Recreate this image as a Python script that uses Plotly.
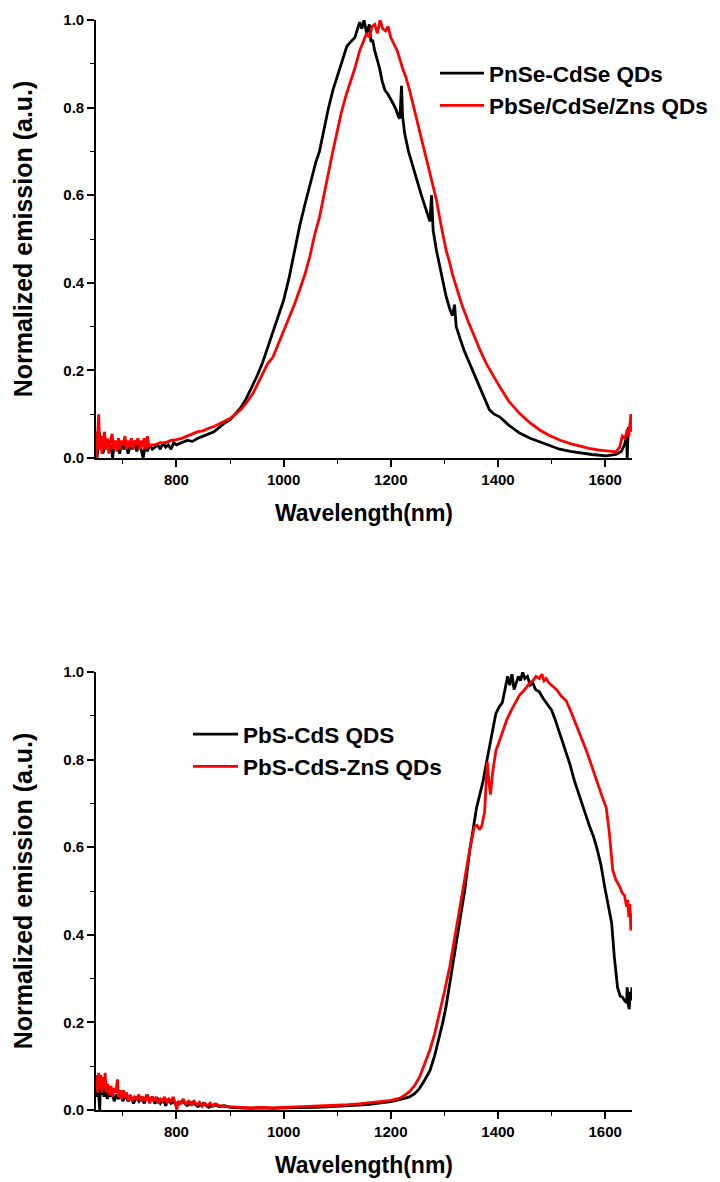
import plotly.graph_objects as go

# ---------------- data ----------------
# Top panel: PbSe-based QDs
top_black_x = [650, 652, 654, 656, 658, 660, 663, 666, 669, 672, 675, 678, 681, 684, 687, 690, 694, 698,
               702, 706, 710, 714, 718, 722, 726, 730, 734, 738, 742, 746, 750, 755, 760, 765, 770, 775,
               780, 785, 790, 795, 800, 810, 820, 830, 840, 850, 860, 870, 880, 890, 900, 910, 920, 930,
               940, 950, 960, 970, 980, 990, 1000, 1010, 1020, 1030, 1040, 1050, 1060, 1067, 1075, 1083,
               1092, 1100, 1105, 1112, 1118, 1125, 1133, 1138, 1142, 1146, 1150, 1155, 1160, 1163, 1166,
               1170, 1175, 1179, 1184, 1189, 1195, 1200, 1204, 1210, 1214, 1217, 1220, 1222, 1226, 1233,
               1241, 1249, 1257, 1265, 1273, 1276, 1279, 1285, 1291, 1297, 1303, 1310, 1315, 1319, 1322,
               1328, 1337, 1347, 1356, 1366, 1375, 1384, 1393, 1403, 1420, 1440, 1460, 1478, 1495, 1515,
               1535, 1552, 1575, 1602, 1620, 1630, 1636, 1640, 1641, 1643, 1646, 1648, 1650]
top_black_y = [0.05, 0.0, 0.03, 0.06, 0.02, 0.04, 0.01, 0.03, 0.02, 0.04, 0.015, 0.03, 0.0, 0.035, 0.02,
               0.03, 0.01, 0.035, 0.02, 0.03, 0.01, 0.03, 0.02, 0.035, 0.015, 0.03, 0.02, 0.0, 0.03, 0.015,
               0.03, 0.02, 0.025, 0.03, 0.02, 0.035, 0.025, 0.03, 0.02, 0.035, 0.03, 0.035, 0.04, 0.038,
               0.045, 0.05, 0.055, 0.06, 0.07, 0.08, 0.087, 0.10, 0.115, 0.135, 0.16, 0.186, 0.215, 0.25,
               0.285, 0.32, 0.36, 0.41, 0.47, 0.53, 0.58, 0.63, 0.675, 0.70, 0.75, 0.795, 0.84, 0.87, 0.89,
               0.915, 0.94, 0.95, 0.96, 0.98, 0.995, 0.98, 1.0, 0.97, 0.99, 0.95, 0.955, 0.93, 0.91, 0.89,
               0.86, 0.84, 0.83, 0.82, 0.81, 0.795, 0.78, 0.775, 0.85, 0.78, 0.74, 0.70, 0.665, 0.63, 0.60,
               0.57, 0.54, 0.60, 0.52, 0.475, 0.44, 0.40, 0.37, 0.34, 0.325, 0.35, 0.30, 0.277, 0.245,
               0.216, 0.19, 0.163, 0.135, 0.11, 0.10, 0.094, 0.075, 0.057, 0.045, 0.037, 0.028, 0.02,
               0.015, 0.012, 0.008, 0.005, 0.008, 0.015, 0.03, 0.05, 0.0, 0.07, 0.06, 0.09, 0.08]

top_red_x = [650, 651, 653, 655, 657, 659, 661, 663, 666, 668, 671, 674, 677, 680, 683, 686, 689, 692, 695,
             698, 701, 704, 707, 710, 713, 716, 719, 722, 725, 728, 731, 734, 737, 740, 743, 746, 749, 752,
             760, 770, 780, 790, 800, 810, 820, 830, 840, 850, 860, 870, 880, 890, 900, 910, 920, 930, 943,
             950, 960, 970, 980, 990, 999, 1010, 1020, 1030, 1040, 1049, 1058, 1067, 1075, 1083, 1091, 1099,
             1108, 1117, 1125, 1133, 1142, 1148, 1155, 1160, 1165, 1170, 1175, 1180, 1185, 1190, 1195, 1200,
             1204, 1212, 1222, 1228, 1235, 1241, 1247, 1255, 1263, 1268, 1273, 1279, 1285, 1294, 1303, 1309,
             1315, 1325, 1334, 1345, 1356, 1367, 1378, 1390, 1403, 1420, 1440, 1460, 1478, 1495, 1515, 1535,
             1552, 1570, 1589, 1605, 1620, 1627, 1632, 1637, 1641, 1644, 1646, 1648, 1650]
top_red_y = [0.06, 0.0, 0.05, 0.10, 0.02, 0.05, 0.01, 0.04, 0.06, 0.02, 0.045, 0.01, 0.04, 0.055, 0.02,
             0.04, 0.015, 0.045, 0.02, 0.04, 0.03, 0.05, 0.02, 0.04, 0.025, 0.045, 0.02, 0.04, 0.03, 0.045,
             0.02, 0.04, 0.025, 0.045, 0.02, 0.05, 0.025, 0.03, 0.03, 0.035, 0.035, 0.04, 0.042, 0.045,
             0.05, 0.055, 0.06, 0.062, 0.068, 0.072, 0.078, 0.085, 0.09, 0.10, 0.11, 0.125, 0.148, 0.165,
             0.19, 0.215, 0.23, 0.26, 0.285, 0.32, 0.35, 0.384, 0.42, 0.46, 0.51, 0.55, 0.60, 0.65, 0.695,
             0.74, 0.79, 0.83, 0.86, 0.89, 0.93, 0.95, 0.97, 0.96, 0.985, 0.99, 0.97, 1.0, 0.98, 0.975,
             0.985, 0.96, 0.95, 0.93, 0.89, 0.87, 0.84, 0.81, 0.78, 0.74, 0.70, 0.68, 0.65, 0.62, 0.59,
             0.53, 0.475, 0.45, 0.42, 0.38, 0.345, 0.31, 0.277, 0.245, 0.216, 0.19, 0.163, 0.13, 0.102,
             0.08, 0.064, 0.052, 0.041, 0.033, 0.027, 0.022, 0.018, 0.016, 0.014, 0.025, 0.05, 0.045,
             0.065, 0.05, 0.08, 0.10, 0.06]

# Bottom panel: PbS-based QDs
bot_black_x = [650, 651, 653, 655, 657, 658, 660, 662, 665, 668, 671, 674, 677, 680, 684, 688, 692, 696,
               700, 705, 710, 715, 720, 725, 730, 735, 740, 745, 750, 755, 760, 765, 770, 775, 780, 785,
               790, 795, 800, 810, 820, 830, 840, 850, 860, 870, 880, 890, 900, 920, 940, 960, 980, 1000,
               1020, 1040, 1060, 1080, 1100, 1120, 1140, 1160, 1180, 1200, 1218, 1235, 1245, 1254, 1263,
               1273, 1282, 1291, 1297, 1303, 1309, 1315, 1322, 1328, 1334, 1338, 1347, 1353, 1360, 1366,
               1372, 1378, 1384, 1390, 1396, 1402, 1408, 1413, 1418, 1422, 1426, 1430, 1434, 1438, 1442,
               1446, 1450, 1455, 1460, 1465, 1470, 1477, 1484, 1492, 1500, 1507, 1515, 1525, 1534, 1543,
               1552, 1562, 1571, 1578, 1584, 1592, 1599, 1605, 1612, 1617, 1623, 1628, 1632, 1636, 1640,
               1641, 1643, 1645, 1646, 1648, 1650]
bot_black_y = [0.06, 0.03, 0.07, 0.04, 0.0, 0.05, 0.035, 0.06, 0.03, 0.05, 0.025, 0.045, 0.03, 0.04,
               0.02, 0.035, 0.025, 0.04, 0.02, 0.035, 0.02, 0.03, 0.015, 0.03, 0.02, 0.03, 0.015, 0.035,
               0.02, 0.03, 0.015, 0.025, 0.015, 0.025, 0.01, 0.025, 0.015, 0.02, 0.01, 0.02, 0.01, 0.018,
               0.008, 0.015, 0.006, 0.012, 0.008, 0.01, 0.006, 0.005, 0.004, 0.005, 0.004, 0.005, 0.005,
               0.006, 0.006, 0.007, 0.008, 0.009, 0.011, 0.013, 0.016, 0.019, 0.024, 0.03, 0.038, 0.05,
               0.068, 0.09, 0.125, 0.167, 0.20, 0.236, 0.28, 0.327, 0.375, 0.426, 0.47, 0.502, 0.59, 0.64,
               0.69, 0.72, 0.75, 0.79, 0.83, 0.87, 0.905, 0.92, 0.93, 0.96, 0.99, 0.97, 0.995, 0.96, 0.975,
               0.99, 0.98, 1.0, 0.985, 0.99, 0.97, 0.975, 0.96, 0.955, 0.94, 0.925, 0.913, 0.89, 0.86,
               0.825, 0.79, 0.75, 0.715, 0.68, 0.647, 0.625, 0.60, 0.56, 0.51, 0.47, 0.427, 0.35, 0.28,
               0.26, 0.258, 0.25, 0.245, 0.28, 0.24, 0.23, 0.27, 0.25, 0.28]

bot_red_x = [650, 651, 653, 655, 657, 659, 661, 663, 665, 667, 669, 672, 675, 678, 681, 684, 687, 690, 692,
             695, 698, 701, 704, 707, 710, 714, 718, 722, 726, 730, 734, 738, 742, 746, 750, 754, 758, 762,
             766, 770, 774, 778, 782, 786, 790, 794, 798, 801, 803, 808, 813, 818, 823, 828, 833, 838, 843,
             848, 853, 858, 863, 868, 873, 880, 890, 900, 920, 940, 960, 980, 1000, 1020, 1040, 1060, 1080,
             1100, 1120, 1140, 1160, 1180, 1200, 1217, 1226, 1235, 1245, 1254, 1263, 1273, 1282, 1291, 1300,
             1310, 1318, 1325, 1334, 1341, 1348, 1356, 1361, 1366, 1370, 1375, 1378, 1380, 1383, 1386, 1390,
             1396, 1402, 1408, 1416, 1425, 1432, 1440, 1450, 1459, 1465, 1471, 1477, 1482, 1486, 1490, 1495,
             1500, 1509, 1518, 1527, 1536, 1546, 1555, 1565, 1575, 1584, 1593, 1602, 1608, 1614, 1620, 1627,
             1632, 1636, 1640, 1642, 1644, 1646, 1648, 1650]
bot_red_y = [0.05, 0.08, 0.04, 0.085, 0.05, 0.08, 0.04, 0.075, 0.05, 0.085, 0.04, 0.06, 0.035, 0.055,
             0.03, 0.05, 0.04, 0.07, 0.03, 0.045, 0.025, 0.045, 0.03, 0.04, 0.02, 0.035, 0.02, 0.03,
             0.025, 0.035, 0.02, 0.03, 0.02, 0.035, 0.015, 0.03, 0.02, 0.03, 0.015, 0.025, 0.02, 0.03,
             0.015, 0.025, 0.02, 0.03, 0.015, 0.0, 0.02, 0.015, 0.025, 0.012, 0.022, 0.01, 0.02, 0.012,
             0.018, 0.008, 0.015, 0.01, 0.016, 0.008, 0.014, 0.01, 0.008, 0.007, 0.006, 0.005, 0.006,
             0.005, 0.006, 0.007, 0.007, 0.008, 0.009, 0.01, 0.012, 0.014, 0.016, 0.019, 0.022, 0.027,
             0.034, 0.042, 0.057, 0.076, 0.105, 0.137, 0.175, 0.22, 0.27, 0.327, 0.385, 0.44, 0.50, 0.548,
             0.60, 0.647, 0.65, 0.64, 0.65, 0.68, 0.74, 0.795, 0.75, 0.72, 0.77, 0.82, 0.84, 0.86, 0.89,
             0.913, 0.93, 0.947, 0.96, 0.975, 0.98, 0.99, 0.985, 0.995, 0.98, 0.985, 0.975, 0.97, 0.96,
             0.945, 0.935, 0.91, 0.88, 0.85, 0.82, 0.785, 0.75, 0.72, 0.69, 0.63, 0.548, 0.525, 0.51,
             0.495, 0.49, 0.464, 0.48, 0.44, 0.47, 0.41, 0.45]

top_names = ["PnSe-CdSe QDs", "PbSe/CdSe/Zns QDs"]
bot_names = ["PbS-CdS QDS", "PbS-CdS-ZnS QDs"]

x_range = [650, 1650]
y_range = [0, 1.0]
x_title = "Wavelength(nm)"
y_title = "Normalized emission (a.u.)"

# ---------------- figure ----------------
FONT = "Liberation Sans, Arial, sans-serif"
LW = 2.8

fig = go.Figure()
fig.add_trace(go.Scatter(x=top_black_x, y=top_black_y, name=top_names[0], mode="lines",
                         line=dict(color="#000000", width=LW), xaxis="x", yaxis="y", legend="legend"))
fig.add_trace(go.Scatter(x=top_red_x, y=top_red_y, name=top_names[1], mode="lines",
                         line=dict(color="#ff0000", width=LW), xaxis="x", yaxis="y", legend="legend"))
fig.add_trace(go.Scatter(x=bot_black_x, y=bot_black_y, name=bot_names[0], mode="lines",
                         line=dict(color="#000000", width=LW), xaxis="x2", yaxis="y2", legend="legend2"))
fig.add_trace(go.Scatter(x=bot_red_x, y=bot_red_y, name=bot_names[1], mode="lines",
                         line=dict(color="#ff0000", width=LW), xaxis="x2", yaxis="y2", legend="legend2"))

xdom = [96 / 720, 632 / 720]
top_dom = [1 - 458 / 1182, 1 - 20 / 1182]
bot_dom = [1 - 1110 / 1182, 1 - 672 / 1182]

def xaxis_style(anchor):
    return dict(domain=xdom, anchor=anchor, range=x_range, showline=True, linecolor="black",
                linewidth=1.6, mirror=False, showgrid=False, zeroline=False,
                ticks="outside", ticklen=7, tickwidth=1.6, tickcolor="black",
                tick0=0, dtick=200,
                minor=dict(ticks="outside", ticklen=4, tickwidth=1.4, tickcolor="black", dtick=100),
                tickfont=dict(family=FONT, size=15, color="black", weight="bold"),
                title=dict(text=x_title, font=dict(family=FONT, size=23, color="black", weight="bold"),
                           standoff=18))

def yaxis_style(anchor, dom):
    return dict(domain=dom, anchor=anchor, range=y_range, showline=True, linecolor="black",
                linewidth=1.6, showgrid=False, zeroline=False,
                ticks="outside", ticklen=7, tickwidth=1.6, tickcolor="black",
                tick0=0, dtick=0.2, tickformat=".1f",
                minor=dict(ticks="outside", ticklen=4, tickwidth=1.4, tickcolor="black", dtick=0.1),
                tickfont=dict(family=FONT, size=15, color="black", weight="bold"),
                title=dict(text=y_title, font=dict(family=FONT, size=25, color="black", weight="bold"),
                           standoff=24))

legend_font = dict(family=FONT, size=22.5, color="black", weight="bold")

fig.update_layout(
    width=720, height=1182,
    margin=dict(l=0, r=0, t=0, b=0, autoexpand=False),
    paper_bgcolor="white", plot_bgcolor="white",
    font=dict(family=FONT, color="black"),
    xaxis=xaxis_style("y"),
    yaxis=yaxis_style("x", top_dom),
    xaxis2=xaxis_style("y2"),
    yaxis2=yaxis_style("x2", bot_dom),
    legend=dict(x=435 / 720, y=1 - 52 / 1182, xanchor="left", yanchor="top",
                bgcolor="rgba(0,0,0,0)", font=legend_font, itemwidth=44, tracegroupgap=0),
    legend2=dict(x=188 / 720, y=1 - 713 / 1182, xanchor="left", yanchor="top",
                 bgcolor="rgba(0,0,0,0)", font=legend_font, itemwidth=45, tracegroupgap=0),
    showlegend=True,
)

fig.write_html("out.html")
